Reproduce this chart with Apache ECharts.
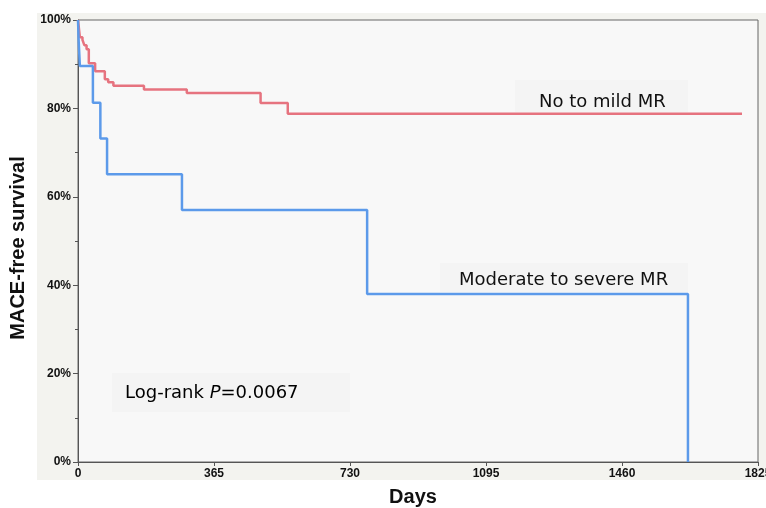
<!DOCTYPE html>
<html>
<head>
<meta charset="utf-8">
<script src="https://cdn.jsdelivr.net/npm/echarts@6/dist/echarts.min.js"></script>
<style>html,body{margin:0;padding:0;background:#fff;}#c{width:766px;height:508px;}</style>
</head>
<body>
<div id="c"></div>
<script>
// Kaplan-Meier step data (days, % MACE-free survival)
const mildDays = [0, 5, 12, 17, 23, 29, 46, 72, 81, 95, 177, 292, 490, 563, 1782];
const mildSurv = [100, 96.1, 95.5, 94.3, 93.4, 90.2, 88.4, 86.6, 85.9, 85.1, 84.3, 83.5, 81.2, 78.8, 78.8];
const sevDays = [0, 2, 5, 40, 60, 78, 279, 776, 1637];
const sevSurv = [100, 94.9, 89.6, 81.3, 73.2, 65.1, 57.0, 38.0, 0];
const xTicks = [0, 365, 730, 1095, 1460, 1825];
const yTicks = [0, 20, 40, 60, 80, 100];
const labels = { mild: 'No to mild MR', sev: 'Moderate to severe MR', p: '0.0067' };

const zip = (xs, ys) => xs.map((x, i) => [x, ys[i]]);
const chart = echarts.init(document.getElementById('c'), null, { renderer: 'canvas' });
const tickFont = { fontFamily: 'Liberation Sans, Arial, sans-serif', fontWeight: 'bold', fontSize: 12, color: '#111' };
const annFont = 'DejaVu Sans, Verdana, sans-serif';

chart.setOption({
  backgroundColor: '#ffffff',
  animation: false,
  graphic: [
    { type: 'rect', z: -10, shape: { x: 37, y: 13, width: 729, height: 467 }, style: { fill: '#f3f3ef' } },
    { type: 'rect', z: 1, shape: { x: 515, y: 80, width: 173, height: 32 }, style: { fill: '#f4f4f4' } },
    { type: 'rect', z: 1, shape: { x: 440, y: 263, width: 248, height: 29 }, style: { fill: '#f4f4f4' } },
    { type: 'rect', z: 1, shape: { x: 112, y: 373, width: 238, height: 39 }, style: { fill: '#f4f4f4' } },
    { type: 'text', z: 5, x: 539, y: 102, style: { text: labels.mild, font: '18px ' + annFont, fill: '#111', textVerticalAlign: 'middle' } },
    { type: 'text', z: 5, x: 459, y: 280, style: { text: labels.sev, font: '18px ' + annFont, fill: '#111', textVerticalAlign: 'middle' } },
    { type: 'text', z: 5, x: 125, y: 393, style: {
        text: '{n|Log-rank }{i|P}{n|=' + labels.p + '}',
        textVerticalAlign: 'middle',
        rich: {
          n: { fontFamily: annFont, fontSize: 18, color: '#111' },
          i: { fontFamily: annFont, fontSize: 18, fontStyle: 'italic', color: '#111' }
        }
    } },
    { type: 'text', z: 5, x: 18, y: 248, rotation: Math.PI / 2, style: { text: 'MACE-free survival', font: 'bold 20px Liberation Sans, Arial, sans-serif', fill: '#111', textAlign: 'center', textVerticalAlign: 'middle' } },
    { type: 'text', z: 5, x: 413, y: 497, style: { text: 'Days', font: 'bold 20px Liberation Sans, Arial, sans-serif', fill: '#111', textAlign: 'center', textVerticalAlign: 'middle' } }
  ],
  grid: { left: 78, right: 8, top: 20, bottom: 46, outerBoundsMode: 'none', containLabel: false, show: true, backgroundColor: '#f8f8f8', borderColor: '#666', borderWidth: 1 },
  xAxis: {
    type: 'value', min: xTicks[0], max: xTicks[xTicks.length - 1], interval: xTicks[1] - xTicks[0],
    axisLine: { show: true, lineStyle: { color: '#555', width: 1 } },
    axisTick: { show: true, inside: false, length: 4, lineStyle: { color: '#555' } },
    axisLabel: Object.assign({ margin: 6, formatter: v => String(v) }, tickFont),
    splitLine: { show: false }
  },
  yAxis: {
    type: 'value', min: yTicks[0], max: yTicks[yTicks.length - 1], interval: yTicks[1] - yTicks[0],
    axisLine: { show: true, lineStyle: { color: '#555', width: 1 } },
    axisTick: { show: true, inside: false, length: 5, lineStyle: { color: '#555' } },
    minorTick: { show: true, splitNumber: 2, length: 3, lineStyle: { color: '#555' } },
    axisLabel: Object.assign({ margin: 7, formatter: '{value}%' }, tickFont),
    splitLine: { show: false }
  },
  series: [
    { name: labels.mild, type: 'line', step: 'end', showSymbol: false, z: 3,
      data: zip(mildDays, mildSurv), lineStyle: { color: '#e6737f', width: 2.5 }, itemStyle: { color: '#e6737f' } },
    { name: labels.sev, type: 'line', step: 'end', showSymbol: false, z: 4,
      data: zip(sevDays, sevSurv), lineStyle: { color: '#5c9aea', width: 2.5 }, itemStyle: { color: '#5c9aea' } }
  ]
});
</script>
</body>
</html>
